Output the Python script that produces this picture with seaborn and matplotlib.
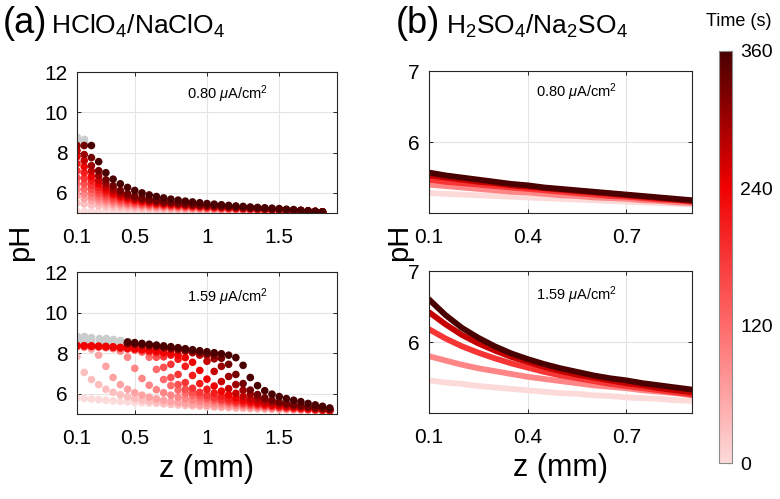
import numpy as np
import pandas as pd
import matplotlib
import matplotlib.pyplot as plt
import seaborn as sns
from matplotlib.colors import LinearSegmentedColormap, Normalize
from matplotlib.cm import ScalarMappable

nan = np.nan

# ---- data -------------------------------------------------------------
times_a = [0, 30, 60, 90, 120, 150, 180, 210, 240, 270, 300, 330, 360]
times_b = [0, 90, 180, 270, 360]

z_a = [0.10, 0.15, 0.20, 0.25, 0.30, 0.35, 0.40, 0.45, 0.50, 0.55, 0.60, 0.65,
       0.70, 0.75, 0.80, 0.85, 0.90, 0.95, 1.00, 1.05, 1.10, 1.15, 1.20, 1.25,
       1.30, 1.35, 1.40, 1.45, 1.50, 1.55, 1.60, 1.65, 1.70, 1.75, 1.80, 1.85]

# HClO4/NaClO4, 0.80 uA/cm2 (one row per time)
ph_a_080 = [
    [5.08, 5.08, 5.08, 5.08, 5.08, 5.08, 5.08, 5.08, 5.08, 5.08, 5.08, 5.08, 5.08, 5.07, 5.07, 5.07, 5.07, 5.07, 5.07, 5.07, 5.06, 5.06, 5.06, 5.06, 5.06, 5.06, 5.05, 5.05, 5.05, 5.05, 5.05, 5.05, 5.04, 5.04, 5.04, nan],
    [5.5, 5.45, 5.4, 5.36, 5.33, 5.3, 5.28, 5.26, 5.24, 5.22, 5.21, 5.2, 5.19, 5.18, 5.17, 5.16, 5.15, 5.15, 5.14, 5.13, 5.13, 5.12, 5.11, 5.11, 5.1, 5.1, 5.09, 5.09, 5.08, 5.08, 5.07, 5.07, 5.06, 5.06, 5.05, nan],
    [5.85, 5.72, 5.62, 5.54, 5.48, 5.43, 5.39, 5.36, 5.33, 5.31, 5.29, 5.27, 5.25, 5.24, 5.22, 5.21, 5.2, 5.19, 5.18, 5.17, 5.16, 5.15, 5.14, 5.13, 5.13, 5.12, 5.11, 5.1, 5.1, 5.09, 5.08, 5.08, 5.07, 5.06, 5.05, nan],
    [6.15, 5.95, 5.8, 5.68, 5.59, 5.52, 5.47, 5.43, 5.4, 5.37, 5.34, 5.32, 5.3, 5.28, 5.27, 5.25, 5.24, 5.22, 5.21, 5.2, 5.19, 5.18, 5.17, 5.16, 5.15, 5.14, 5.13, 5.12, 5.11, 5.1, 5.09, 5.08, 5.07, 5.06, 5.05, nan],
    [6.45, 6.2, 5.98, 5.82, 5.7, 5.61, 5.54, 5.49, 5.45, 5.41, 5.38, 5.36, 5.34, 5.32, 5.3, 5.28, 5.27, 5.25, 5.24, 5.23, 5.21, 5.2, 5.19, 5.18, 5.17, 5.16, 5.15, 5.13, 5.12, 5.11, 5.1, 5.09, 5.08, 5.07, 5.05, nan],
    [6.75, 6.45, 6.18, 5.97, 5.82, 5.71, 5.62, 5.56, 5.5, 5.46, 5.42, 5.39, 5.37, 5.35, 5.33, 5.31, 5.29, 5.28, 5.26, 5.25, 5.23, 5.22, 5.21, 5.2, 5.18, 5.17, 5.16, 5.15, 5.13, 5.12, 5.11, 5.1, 5.08, 5.07, 5.06, nan],
    [7.1, 6.72, 6.38, 6.12, 5.94, 5.8, 5.7, 5.62, 5.56, 5.51, 5.47, 5.43, 5.4, 5.38, 5.36, 5.34, 5.32, 5.3, 5.28, 5.27, 5.25, 5.24, 5.22, 5.21, 5.2, 5.18, 5.17, 5.16, 5.14, 5.13, 5.12, 5.1, 5.09, 5.07, 5.06, nan],
    [7.45, 7.0, 6.6, 6.28, 6.05, 5.89, 5.77, 5.68, 5.61, 5.55, 5.5, 5.46, 5.43, 5.41, 5.38, 5.36, 5.34, 5.32, 5.3, 5.29, 5.27, 5.25, 5.24, 5.22, 5.21, 5.2, 5.18, 5.17, 5.15, 5.14, 5.12, 5.11, 5.09, 5.08, 5.06, nan],
    [7.8, 7.3, 6.82, 6.45, 6.17, 5.97, 5.83, 5.73, 5.65, 5.59, 5.54, 5.5, 5.46, 5.43, 5.41, 5.38, 5.36, 5.34, 5.32, 5.3, 5.28, 5.27, 5.25, 5.23, 5.22, 5.2, 5.19, 5.17, 5.16, 5.14, 5.13, 5.11, 5.1, 5.08, 5.06, nan],
    [8.1, 7.6, 7.08, 6.62, 6.3, 6.07, 5.9, 5.79, 5.7, 5.63, 5.58, 5.53, 5.49, 5.46, 5.43, 5.4, 5.38, 5.36, 5.34, 5.32, 5.3, 5.28, 5.26, 5.24, 5.23, 5.21, 5.2, 5.18, 5.16, 5.15, 5.13, 5.12, 5.1, 5.08, 5.06, nan],
    [8.35, 7.9, 7.35, 6.85, 6.48, 6.2, 6.0, 5.86, 5.76, 5.68, 5.62, 5.57, 5.52, 5.49, 5.46, 5.43, 5.4, 5.38, 5.36, 5.34, 5.32, 5.3, 5.28, 5.26, 5.24, 5.22, 5.21, 5.19, 5.17, 5.15, 5.14, 5.12, 5.1, 5.08, 5.06, nan],
    [nan, 8.35, 7.75, 7.1, 6.65, 6.35, 6.12, 5.96, 5.84, 5.75, 5.68, 5.62, 5.57, 5.53, 5.5, 5.47, 5.44, 5.41, 5.39, 5.36, 5.34, 5.32, 5.3, 5.28, 5.26, 5.24, 5.22, 5.2, 5.18, 5.16, 5.14, 5.12, 5.1, 5.08, 5.06, nan],
    [nan, nan, 8.35, 7.55, 7.0, 6.68, 6.45, 6.27, 6.12, 6.0, 5.9, 5.82, 5.75, 5.69, 5.64, 5.59, 5.55, 5.51, 5.47, 5.44, 5.41, 5.38, 5.35, 5.33, 5.3, 5.28, 5.26, 5.24, 5.22, 5.19, 5.17, 5.14, 5.11, 5.08, 5.05, nan],
]
gray_z_a080 = [0.10, 0.10, 0.15, 0.15]
gray_ph_a080 = [8.75, 8.62, 8.65, 8.55]

# HClO4/NaClO4, 1.59 uA/cm2
ph_a_159 = [
    [5.8, 5.77, 5.74, 5.71, 5.68, 5.65, 5.62, 5.6, 5.57, 5.55, 5.53, 5.51, 5.49, 5.47, 5.45, 5.43, 5.41, 5.4, 5.38, 5.36, 5.34, 5.33, 5.31, 5.29, 5.28, 5.26, 5.25, 5.23, 5.22, 5.2, 5.19, 5.17, 5.16, 5.15, 5.13, 5.12],
    [7.83, 7.05, 6.7, 6.45, 6.22, 6.07, 5.95, 5.85, 5.76, 5.68, 5.62, 5.57, 5.52, 5.48, 5.45, 5.42, 5.4, 5.38, 5.36, 5.34, 5.32, 5.31, 5.29, 5.28, 5.27, 5.26, 5.25, 5.24, 5.23, 5.22, 5.21, 5.2, 5.19, 5.17, 5.16, 5.14],
    [8.3, 8.28, 8.2, 7.9, 7.35, 6.8, 6.45, 6.22, 6.05, 5.93, 5.83, 5.75, 5.68, 5.62, 5.57, 5.53, 5.49, 5.46, 5.43, 5.4, 5.38, 5.36, 5.34, 5.32, 5.3, 5.29, 5.27, 5.26, 5.25, 5.23, 5.22, 5.21, 5.2, 5.18, 5.17, 5.15],
    [8.35, 8.34, 8.32, 8.3, 8.27, 8.22, 8.1, 7.8, 7.25, 6.75, 6.42, 6.2, 6.05, 5.93, 5.83, 5.75, 5.68, 5.62, 5.57, 5.53, 5.49, 5.46, 5.43, 5.4, 5.37, 5.35, 5.33, 5.31, 5.29, 5.27, 5.25, 5.24, 5.22, 5.2, 5.18, 5.16],
    [8.35, 8.34, 8.33, 8.31, 8.29, 8.27, 8.24, 8.2, 8.15, 8.05, 7.8, 7.2, 6.7, 6.4, 6.18, 6.02, 5.9, 5.8, 5.72, 5.65, 5.59, 5.54, 5.5, 5.46, 5.42, 5.39, 5.36, 5.34, 5.31, 5.29, 5.27, 5.25, 5.23, 5.21, 5.19, 5.17],
    [8.36, 8.35, 8.34, 8.32, 8.3, 8.28, 8.25, 8.22, 8.18, 8.12, 8.02, 7.8, 7.3, 6.8, 6.45, 6.22, 6.05, 5.92, 5.82, 5.73, 5.66, 5.6, 5.55, 5.5, 5.46, 5.42, 5.39, 5.36, 5.33, 5.3, 5.28, 5.26, 5.23, 5.21, 5.19, 5.17],
    [8.36, 8.35, 8.34, 8.33, 8.31, 8.29, 8.26, 8.23, 8.2, 8.15, 8.1, 8.0, 7.82, 7.45, 6.95, 6.55, 6.27, 6.07, 5.93, 5.82, 5.73, 5.66, 5.6, 5.54, 5.5, 5.46, 5.42, 5.38, 5.35, 5.32, 5.29, 5.27, 5.24, 5.22, 5.2, 5.17],
    [8.37, 8.36, 8.35, 8.34, 8.32, 8.3, 8.27, 8.24, 8.21, 8.17, 8.12, 8.07, 8.0, 7.9, 7.7, 7.35, 6.9, 6.5, 6.22, 6.03, 5.88, 5.77, 5.68, 5.61, 5.55, 5.5, 5.45, 5.41, 5.37, 5.34, 5.31, 5.28, 5.25, 5.23, 5.2, 5.18],
    [8.37, 8.36, 8.35, 8.34, 8.33, 8.31, 8.28, 8.25, 8.22, 8.18, 8.14, 8.09, 8.04, 7.98, 7.9, 7.78, 7.55, 7.15, 6.72, 6.38, 6.13, 5.95, 5.81, 5.7, 5.62, 5.55, 5.49, 5.44, 5.4, 5.36, 5.33, 5.3, 5.27, 5.24, 5.21, 5.19],
    [nan, nan, nan, nan, nan, nan, nan, 8.45, 8.42, 8.38, 8.34, 8.3, 8.25, 8.2, 8.15, 8.09, 8.02, 7.9, 7.6, 7.1, 6.6, 6.25, 6.02, 5.86, 5.74, 5.65, 5.57, 5.51, 5.46, 5.41, 5.37, 5.33, 5.3, 5.27, 5.24, 5.21],
    [nan, nan, nan, nan, nan, nan, nan, 8.48, 8.45, 8.41, 8.37, 8.33, 8.28, 8.23, 8.18, 8.13, 8.07, 8.0, 7.9, 7.72, 7.35, 6.85, 6.45, 6.17, 5.97, 5.82, 5.7, 5.61, 5.54, 5.48, 5.43, 5.38, 5.34, 5.3, 5.26, 5.23],
    [nan, nan, nan, nan, nan, nan, nan, 8.5, 8.47, 8.43, 8.39, 8.35, 8.3, 8.26, 8.21, 8.16, 8.11, 8.05, 7.98, 7.9, 7.75, 7.45, 6.95, 6.5, 6.18, 5.96, 5.8, 5.68, 5.59, 5.52, 5.46, 5.41, 5.36, 5.32, 5.28, 5.24],
    [nan, nan, nan, nan, nan, nan, nan, 8.55, 8.52, 8.48, 8.44, 8.4, 8.36, 8.32, 8.27, 8.22, 8.17, 8.12, 8.07, 8.02, 7.97, 7.9, 7.78, 7.4, 6.8, 6.4, 6.15, 5.98, 5.86, 5.76, 5.68, 5.61, 5.52, 5.45, 5.38, 5.3],
]
gray_z_a159 = [0.10, 0.15, 0.20, 0.25, 0.30, 0.35, 0.40, 0.45]
gray_ph_a159 = [
    [8.85, 8.83, 8.8, 8.77, 8.73, 8.69, 8.65, 8.6],
    [8.72, 8.71, 8.69, 8.67, 8.64, 8.61, 8.58, 8.55],
    [8.6, 8.59, 8.58, 8.56, 8.54, 8.52, 8.5, 8.48],
    [8.5, 8.49, 8.48, 8.47, 8.46, 8.45, 8.44, 8.43],
]

z_b = [0.10, 0.15, 0.20, 0.25, 0.30, 0.35, 0.40, 0.45, 0.50,
       0.55, 0.60, 0.65, 0.70, 0.75, 0.80, 0.85, 0.90]

# H2SO4/Na2SO4, 0.80 uA/cm2
ph_b_080 = [
    [5.28, 5.27, 5.26, 5.25, 5.24, 5.23, 5.22, 5.21, 5.2, 5.19, 5.18, 5.17, 5.16, 5.15, 5.14, 5.13, 5.12],
    [5.4, 5.38, 5.36, 5.34, 5.32, 5.3, 5.29, 5.27, 5.25, 5.24, 5.22, 5.21, 5.2, 5.18, 5.17, 5.15, 5.14],
    [5.47, 5.44, 5.42, 5.4, 5.38, 5.36, 5.34, 5.32, 5.3, 5.28, 5.26, 5.24, 5.23, 5.21, 5.19, 5.18, 5.16],
    [5.53, 5.5, 5.47, 5.44, 5.42, 5.39, 5.37, 5.35, 5.33, 5.31, 5.29, 5.27, 5.25, 5.23, 5.21, 5.19, 5.17],
    [5.57, 5.53, 5.5, 5.47, 5.44, 5.41, 5.39, 5.36, 5.34, 5.32, 5.3, 5.28, 5.26, 5.24, 5.22, 5.2, 5.18],
]

# H2SO4/Na2SO4, 1.59 uA/cm2
ph_b_159 = [
    [5.46, 5.43, 5.41, 5.38, 5.36, 5.34, 5.32, 5.3, 5.28, 5.27, 5.25, 5.24, 5.22, 5.21, 5.2, 5.18, 5.17],
    [5.8, 5.74, 5.68, 5.63, 5.59, 5.55, 5.51, 5.48, 5.45, 5.42, 5.39, 5.37, 5.35, 5.32, 5.3, 5.28, 5.25],
    [6.18, 6.05, 5.94, 5.85, 5.77, 5.7, 5.64, 5.58, 5.53, 5.49, 5.45, 5.41, 5.38, 5.35, 5.32, 5.29, 5.26],
    [6.42, 6.25, 6.1, 5.98, 5.88, 5.79, 5.72, 5.65, 5.59, 5.54, 5.5, 5.46, 5.42, 5.39, 5.35, 5.32, 5.29],
    [6.6, 6.38, 6.2, 6.06, 5.94, 5.84, 5.76, 5.69, 5.63, 5.58, 5.53, 5.49, 5.46, 5.42, 5.39, 5.36, 5.33],
]


def long_frame(z, times, rows):
    recs = []
    for t, vals in zip(times, rows):
        for zz, v in zip(z, vals):
            if not np.isnan(v):
                recs.append((zz, v, t))
    return pd.DataFrame(recs, columns=['z', 'pH', 'time'])


# ---- style ------------------------------------------------------------
sns.set_style('ticks')
plt.rcParams['font.family'] = ['Liberation Sans', 'DejaVu Sans']
plt.rcParams['mathtext.fontset'] = 'custom'
plt.rcParams['mathtext.rm'] = 'Liberation Sans'
plt.rcParams['mathtext.it'] = 'Liberation Sans:italic'
for key in ['text.color', 'axes.labelcolor', 'xtick.color', 'ytick.color']:
    plt.rcParams[key] = 'black'

cmap = LinearSegmentedColormap.from_list(
    'time', [(0.0, '#fddada'), (0.33, '#ff6b6b'), (0.67, '#f00000'), (1.0, '#4a0000')])
norm = Normalize(0, 360)
gray = '#c9cdcd'
msize = 30

fig = plt.figure(figsize=(7.8, 4.99), dpi=100)
ax_a1 = fig.add_axes([0.0987, 0.5731, 0.3333, 0.2826])
ax_a2 = fig.add_axes([0.0987, 0.1703, 0.3333, 0.2846])
ax_b1 = fig.add_axes([0.5500, 0.5731, 0.3372, 0.2846])
ax_b2 = fig.add_axes([0.5500, 0.1723, 0.3372, 0.2846])

# panel (a): dots
df_a1 = long_frame(z_a, times_a, ph_a_080)
df_a2 = long_frame(z_a, times_a, ph_a_159)
df_g1 = pd.DataFrame({'z': gray_z_a080, 'pH': gray_ph_a080})
df_g2 = long_frame(gray_z_a159, [0] * len(gray_ph_a159), gray_ph_a159)

for ax, df, dg in [(ax_a1, df_a1, df_g1), (ax_a2, df_a2, df_g2)]:
    sns.scatterplot(data=dg, x='z', y='pH', color=gray, s=msize, linewidth=0,
                    ax=ax, legend=False)
    sns.scatterplot(data=df, x='z', y='pH', hue='time', palette=cmap,
                    hue_norm=norm, s=msize, linewidth=0, ax=ax, legend=False)
    ax.set_xlim(0.1, 1.9)
    ax.set_ylim(5, 12)
    ax.set_xticks([0.1, 0.5, 1, 1.5])
    ax.set_xticklabels(['0.1', '0.5', '1', '1.5'])
    ax.set_yticks([6, 8, 10, 12])

# panel (b): lines
df_b1 = long_frame(z_b, times_b, ph_b_080)
df_b2 = long_frame(z_b, times_b, ph_b_159)
for ax, df in [(ax_b1, df_b1), (ax_b2, df_b2)]:
    sns.lineplot(data=df, x='z', y='pH', hue='time', palette=cmap,
                 hue_norm=norm, lw=4.2, ax=ax, legend=False)
    ax.set_xlim(0.1, 0.9)
    ax.set_ylim(5, 7)
    ax.set_xticks([0.1, 0.4, 0.7])
    ax.set_yticks([6, 7])

labels = {ax_a1: (0.58, 0.84), ax_a2: (0.58, 0.82), ax_b1: (0.56, 0.85), ax_b2: (0.56, 0.83)}
for ax in [ax_a1, ax_a2, ax_b1, ax_b2]:
    ax.grid(True, color='#e4e4e4', lw=0.8)
    ax.tick_params(direction='in', top=True, right=True, labelsize=15,
                   length=3, width=0.7, color='#262626')
    ax.tick_params(axis='x', pad=11)
    ax.tick_params(axis='y', pad=7)
    for s in ax.spines.values():
        s.set_color('#262626')
        s.set_linewidth(0.8)
    ax.set_xlabel('')
    ax.set_ylabel('')
    cur = '0.80' if ax in (ax_a1, ax_b1) else '1.59'
    x, y = labels[ax]
    ax.text(x, y, cur + r' $\mu$A/cm$^2$', transform=ax.transAxes,
            ha='center', va='center', fontsize=10.5)

ax_a2.set_xlabel('z (mm)', fontsize=22, labelpad=4)
ax_b2.set_xlabel('z (mm)', fontsize=22, labelpad=4)
fig.text(0.026, 0.515, 'pH', rotation=90, ha='center', va='center', fontsize=21)
fig.text(0.511, 0.515, 'pH', rotation=90, ha='center', va='center', fontsize=21)

fig.text(0.003, 0.952, '(a)', fontsize=26, va='center', ha='left')
fig.text(0.066, 0.948, 'HClO$_4$/NaClO$_4$', fontsize=19, va='center', ha='left')
fig.text(0.508, 0.952, '(b)', fontsize=26, va='center', ha='left')
fig.text(0.572, 0.948, 'H$_2$SO$_4$/Na$_2$SO$_4$', fontsize=19, va='center', ha='left')

# colorbar
cax = fig.add_axes([0.9218, 0.0721, 0.0167, 0.8257])
cb = fig.colorbar(ScalarMappable(norm=norm, cmap=cmap), cax=cax,
                  ticks=[0, 120, 240, 360])
cb.outline.set_edgecolor('#8a8a8a')
cb.outline.set_linewidth(0.8)
cax.tick_params(direction='in', length=3, labelsize=14, color='#262626', pad=6)
fig.text(0.947, 0.957, 'Time (s)', ha='center', va='center', fontsize=13)

fig.savefig('out.png', dpi=100)
